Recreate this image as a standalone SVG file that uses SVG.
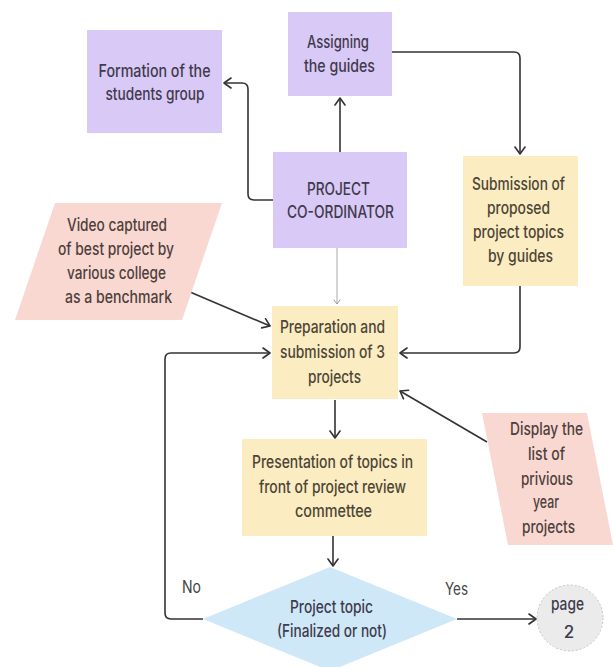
<svg xmlns="http://www.w3.org/2000/svg" width="613" height="667" viewBox="0 0 613 667">
<defs>
<marker id="ah" markerUnits="userSpaceOnUse" markerWidth="12" markerHeight="14" refX="8" refY="6" orient="auto">
<path d="M1,1 L8,6 L1,11" fill="none" stroke="#333" stroke-width="1.6" stroke-linecap="round" stroke-linejoin="round"/>
</marker>
<marker id="ahs" markerUnits="userSpaceOnUse" markerWidth="8" markerHeight="8" refX="5" refY="4" orient="auto">
<path d="M1,1 L5,4 L1,7" fill="none" stroke="#999" stroke-width="1" stroke-linecap="round"/>
</marker>
</defs>
<style>
.purple{fill:#d9c9f6;}
.yellow{fill:#fbecc1;}
.pink{fill:#f9d8d1;}
.blue{fill:#cfe8f8;}
.grey{fill:#ebebeb;stroke:#c4c4c4;stroke-width:1;stroke-dasharray:2 2;}
text{font-family:"Inter","Liberation Sans",sans-serif;font-size:17px;font-weight:500;fill:#45403c;text-anchor:middle;}
.pt{fill:#3f3a4c;}
.yt{fill:#4b4536;}
.rt{fill:#4d3f3c;}
.lbl{fill:#444;font-weight:400;}
.c{fill:none;stroke:#333;stroke-width:1.6;stroke-linejoin:round;}
.thin{fill:none;stroke:#aaa;stroke-width:1;}
</style>
<rect width="613" height="667" fill="#ffffff"/>
<g id="connectors">
<path class="c" d="M340,152 L340,98" marker-end="url(#ah)"/>
<path class="c" d="M273,200 L254,200 Q248,200 248,194 L248,89 Q248,83 242,83 L224,83" marker-end="url(#ah)"/>
<path class="c" d="M392,52 L514,52 Q520,52 520,58 L520,154" marker-end="url(#ah)"/>
<path class="c" d="M520,286 L520,347 Q520,353 514,353 L400,353" marker-end="url(#ah)"/>
<path class="thin" d="M337,248 L337,304" marker-end="url(#ahs)"/>
<path class="c" d="M190,292 L270,326" marker-end="url(#ah)"/>
<path class="c" d="M487,442 L400,391" marker-end="url(#ah)"/>
<path class="c" d="M335,400 L335,438" marker-end="url(#ah)"/>
<path class="c" d="M333,536 L333,566" marker-end="url(#ah)"/>
<path class="c" d="M203,619 L171,619 Q165,619 165,613 L165,359 Q165,353 171,353 L270,353" marker-end="url(#ah)"/>
<path class="c" d="M457,619 L536,619" marker-end="url(#ah)"/>
</g>
<g id="formation">
<rect class="purple" x="87" y="30" width="135" height="103"/>
<text class="pt" x="154.5" y="77" textLength="112" lengthAdjust="spacingAndGlyphs">Formation of the</text>
<text class="pt" x="155" y="100" textLength="99" lengthAdjust="spacingAndGlyphs">students group</text>
</g>
<g id="assigning">
<rect class="purple" x="288" y="12" width="104" height="84"/>
<text class="pt" x="338" y="48" textLength="62" lengthAdjust="spacingAndGlyphs">Assigning</text>
<text class="pt" x="339.5" y="72" textLength="71" lengthAdjust="spacingAndGlyphs">the guides</text>
</g>
<g id="coordinator">
<rect class="purple" x="273" y="152" width="134" height="96"/>
<text class="pt" x="338.5" y="195" textLength="63" lengthAdjust="spacingAndGlyphs">PROJECT</text>
<text class="pt" x="340.5" y="218" textLength="107" lengthAdjust="spacingAndGlyphs">CO-ORDINATOR</text>
</g>
<g id="submission">
<rect class="yellow" x="463" y="156" width="115" height="130"/>
<text class="yt" x="518.5" y="190" textLength="93" lengthAdjust="spacingAndGlyphs">Submission of</text>
<text class="yt" x="518.5" y="214" textLength="63" lengthAdjust="spacingAndGlyphs">proposed</text>
<text class="yt" x="518.5" y="238" textLength="91" lengthAdjust="spacingAndGlyphs">project topics</text>
<text class="yt" x="520.5" y="262" textLength="65" lengthAdjust="spacingAndGlyphs">by guides</text>
</g>
<g id="video">
<polygon class="pink" points="55,203 222,203 182,320 15,320"/>
<text class="rt" x="117" y="231" textLength="100" lengthAdjust="spacingAndGlyphs">Video captured</text>
<text class="rt" x="116" y="255" textLength="116" lengthAdjust="spacingAndGlyphs">of best project by</text>
<text class="rt" x="116.5" y="279" textLength="99" lengthAdjust="spacingAndGlyphs">various college</text>
<text class="rt" x="118.5" y="303" textLength="107" lengthAdjust="spacingAndGlyphs">as a benchmark</text>
</g>
<g id="preparation">
<rect class="yellow" x="272" y="306" width="126" height="93"/>
<text class="yt" x="332.5" y="333" textLength="105" lengthAdjust="spacingAndGlyphs">Preparation and</text>
<text class="yt" x="332.5" y="358" textLength="105" lengthAdjust="spacingAndGlyphs">submission of 3</text>
<text class="yt" x="334.5" y="383" textLength="53" lengthAdjust="spacingAndGlyphs">projects</text>
</g>
<g id="display">
<polygon class="pink" points="482,413 587,413 613,545 508,545"/>
<text class="rt" x="546.5" y="435" textLength="73" lengthAdjust="spacingAndGlyphs">Display the</text>
<text class="rt" x="546.5" y="460" textLength="37" lengthAdjust="spacingAndGlyphs">list of</text>
<text class="rt" x="547" y="485" textLength="52" lengthAdjust="spacingAndGlyphs">privious</text>
<text class="rt" x="546" y="508" textLength="26" lengthAdjust="spacingAndGlyphs">year</text>
<text class="rt" x="548.5" y="533" textLength="53" lengthAdjust="spacingAndGlyphs">projects</text>
</g>
<g id="presentation">
<rect class="yellow" x="242" y="439" width="185" height="97"/>
<text class="yt" x="332.5" y="468" textLength="161" lengthAdjust="spacingAndGlyphs">Presentation of topics in</text>
<text class="yt" x="332.5" y="493" textLength="147" lengthAdjust="spacingAndGlyphs">front of project review</text>
<text class="yt" x="333.5" y="517" textLength="77" lengthAdjust="spacingAndGlyphs">commettee</text>
</g>
<g id="decision">
<polygon class="blue" points="330,567 457,619 330,671 203,619"/>
<text class="pt" x="331.5" y="613" textLength="83" lengthAdjust="spacingAndGlyphs">Project topic</text>
<text class="pt" x="332" y="637" textLength="110" lengthAdjust="spacingAndGlyphs">(Finalized or not)</text>
</g>
<g id="labels">
<text class="lbl" x="191.5" y="593" textLength="19" lengthAdjust="spacingAndGlyphs">No</text>
<text class="lbl" x="456.5" y="595" textLength="23" lengthAdjust="spacingAndGlyphs">Yes</text>
</g>
<g id="page2">
<circle class="grey" cx="570" cy="618" r="33"/>
<text class="pt" x="567.5" y="610" textLength="33" lengthAdjust="spacingAndGlyphs">page</text>
<text class="pt" x="569" y="638">2</text>
</g>
</svg>
